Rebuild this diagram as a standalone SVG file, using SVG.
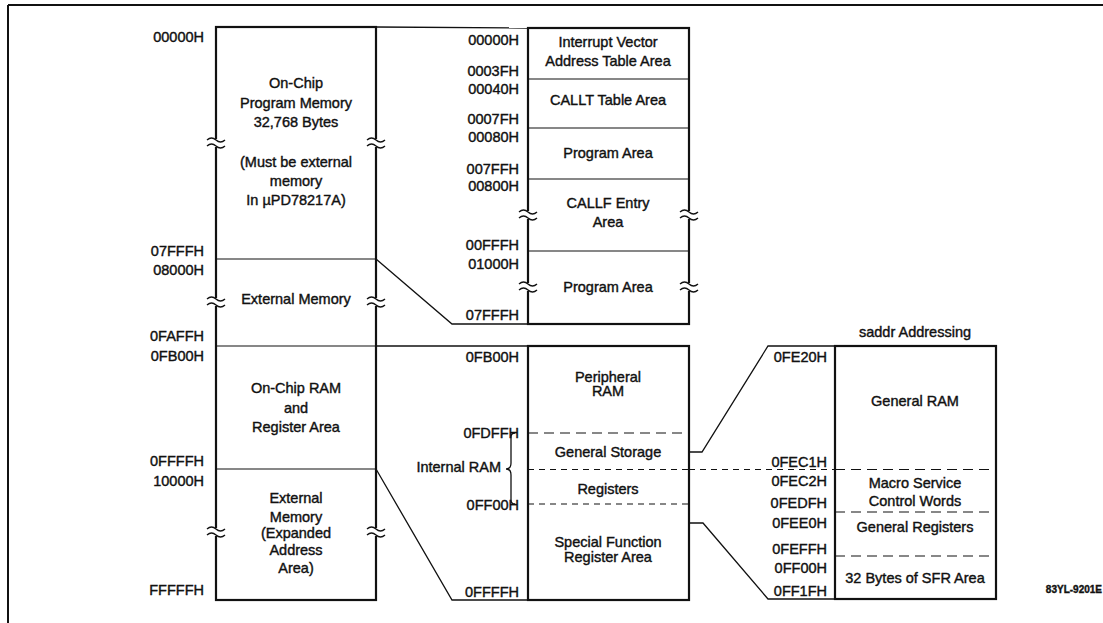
<svg xmlns="http://www.w3.org/2000/svg" width="1103" height="623" viewBox="0 0 1103 623">
<style>
text{font-family:"Liberation Sans",Arial,sans-serif;font-size:14.5px;fill:#111;stroke:#111;stroke-width:0.4}
.l{text-anchor:end}
.c{text-anchor:middle}
.box{fill:#fff;stroke:#111;stroke-width:2.2}
.div{stroke:#111;stroke-width:1.2;fill:none}
.dash{stroke:#111;stroke-width:1.2;fill:none;stroke-dasharray:10 6}
.dash2{stroke:#111;stroke-width:1.1;fill:none;stroke-dasharray:6 5}
.conn{stroke:#111;stroke-width:1.3;fill:none}
.brk{stroke:#111;stroke-width:1.4;fill:none}
</style>
<defs>
<g id="brk">
<rect x="-4" y="-4" width="8" height="8" fill="#fff"/>
<path class="brk" d="M-9,-3 q4.5,-4 9,0 t9,0 M-9,3 q4.5,-4 9,0 t9,0"/>
</g>
</defs>
<g id="frame">
<line x1="8" y1="5" x2="1103" y2="5" stroke="#111" stroke-width="2"/>
<line x1="8" y1="5" x2="8" y2="623" stroke="#111" stroke-width="2"/>
</g>
<g id="connectors">
<line class="conn" x1="376" y1="27" x2="528" y2="28"/>
<polyline class="conn" points="376,259 452,324 528,324"/>
<line class="conn" x1="376" y1="346" x2="528" y2="346"/>
<polyline class="conn" points="376,469 452,600 528,600"/>
<polyline class="conn" points="689,452 702,452 768,346 835,346"/>
<polyline class="conn" points="689,523 703,523 768,599 835,599"/>
<line class="dash2" x1="689" y1="469.5" x2="835" y2="469.5"/>
</g>
<g id="left-map">
<rect class="box" x="216" y="27" width="160" height="573"/>
<line class="div" x1="216" y1="259" x2="376" y2="259"/>
<line class="div" x1="216" y1="346" x2="376" y2="346"/>
<line class="div" x1="216" y1="469" x2="376" y2="469"/>
<use href="#brk" x="216" y="143"/><use href="#brk" x="376" y="143"/>
<use href="#brk" x="216" y="302"/><use href="#brk" x="376" y="302"/>
<use href="#brk" x="216" y="532"/><use href="#brk" x="376" y="532"/>
<text class="l" x="204" y="42">00000H</text>
<text class="l" x="204" y="256">07FFFH</text>
<text class="l" x="204" y="275">08000H</text>
<text class="l" x="204" y="341">0FAFFH</text>
<text class="l" x="204" y="361">0FB00H</text>
<text class="l" x="204" y="466">0FFFFH</text>
<text class="l" x="204" y="486">10000H</text>
<text class="l" x="204" y="595">FFFFFH</text>
<text class="c" x="296" y="88">On-Chip</text>
<text class="c" x="296" y="108">Program Memory</text>
<text class="c" x="296" y="127">32,768 Bytes</text>
<text class="c" x="296" y="167">(Must be external</text>
<text class="c" x="296" y="186">memory</text>
<text class="c" x="296" y="205">In µPD78217A)</text>
<text class="c" x="296" y="304">External Memory</text>
<text class="c" x="296" y="393">On-Chip RAM</text>
<text class="c" x="296" y="413">and</text>
<text class="c" x="296" y="432">Register Area</text>
<text class="c" x="296" y="503">External</text>
<text class="c" x="296" y="522">Memory</text>
<text class="c" x="296" y="538">(Expanded</text>
<text class="c" x="296" y="555">Address</text>
<text class="c" x="296" y="573">Area)</text>
</g>
<g id="program-map">
<rect class="box" x="528" y="28" width="161" height="296"/>
<line class="div" x1="528" y1="79" x2="689" y2="79"/>
<line class="div" x1="528" y1="128" x2="689" y2="128"/>
<line class="div" x1="528" y1="179" x2="689" y2="179"/>
<line class="div" x1="528" y1="251" x2="689" y2="251"/>
<use href="#brk" x="528" y="215"/><use href="#brk" x="689" y="215"/>
<use href="#brk" x="528" y="287"/><use href="#brk" x="689" y="287"/>
<text class="l" x="519" y="45">00000H</text>
<text class="l" x="519" y="76">0003FH</text>
<text class="l" x="519" y="94">00040H</text>
<text class="l" x="519" y="124">0007FH</text>
<text class="l" x="519" y="142">00080H</text>
<text class="l" x="519" y="174">007FFH</text>
<text class="l" x="519" y="191">00800H</text>
<text class="l" x="519" y="250">00FFFH</text>
<text class="l" x="519" y="269">01000H</text>
<text class="l" x="519" y="320">07FFFH</text>
<text class="c" x="608" y="47">Interrupt Vector</text>
<text class="c" x="608" y="66">Address Table Area</text>
<text class="c" x="608" y="105">CALLT Table Area</text>
<text class="c" x="608" y="158">Program Area</text>
<text class="c" x="608" y="208">CALLF Entry</text>
<text class="c" x="608" y="227">Area</text>
<text class="c" x="608" y="292">Program Area</text>
</g>
<g id="ram-map">
<rect class="box" x="528" y="346" width="161" height="254"/>
<line class="dash" x1="528" y1="433" x2="689" y2="433"/>
<line class="dash2" x1="528" y1="469.5" x2="689" y2="469.5"/>
<line class="dash2" x1="528" y1="504" x2="689" y2="504" stroke-dasharray="5 5"/>
<path class="conn" d="M515,433 q-4,0 -4,4 v26 q0,6 -5,6 q5,0 5,6 v25 q0,4 4,4"/>
<text class="l" x="519" y="362">0FB00H</text>
<text class="l" x="519" y="438">0FDFFH</text>
<text class="l" x="501" y="472">Internal RAM</text>
<text class="l" x="519" y="510">0FF00H</text>
<text class="l" x="519" y="597">0FFFFH</text>
<text class="c" x="608" y="382">Peripheral</text>
<text class="c" x="608" y="396">RAM</text>
<text class="c" x="608" y="457">General Storage</text>
<text class="c" x="608" y="494">Registers</text>
<text class="c" x="608" y="547">Special Function</text>
<text class="c" x="608" y="562">Register Area</text>
</g>
<g id="saddr-map">
<rect class="box" x="835" y="346" width="161" height="253"/>
<line class="dash" x1="835" y1="469.5" x2="996" y2="469.5"/>
<line class="dash" x1="835" y1="512" x2="996" y2="512"/>
<line class="dash" x1="835" y1="556" x2="996" y2="556"/>
<text class="c" x="915" y="337">saddr Addressing</text>
<text class="l" x="827" y="362">0FE20H</text>
<text class="l" x="827" y="467">0FEC1H</text>
<text class="l" x="827" y="486">0FEC2H</text>
<text class="l" x="827" y="508">0FEDFH</text>
<text class="l" x="827" y="528">0FEE0H</text>
<text class="l" x="827" y="554">0FEFFH</text>
<text class="l" x="827" y="573">0FF00H</text>
<text class="l" x="827" y="596">0FF1FH</text>
<text class="c" x="915" y="406">General RAM</text>
<text class="c" x="915" y="488">Macro Service</text>
<text class="c" x="915" y="506">Control Words</text>
<text class="c" x="915" y="532">General Registers</text>
<text class="c" x="915" y="583">32 Bytes of SFR Area</text>
</g>
<text class="l" x="1102" y="593" style="font-size:10px;font-weight:bold">83YL-9201E</text>
</svg>
